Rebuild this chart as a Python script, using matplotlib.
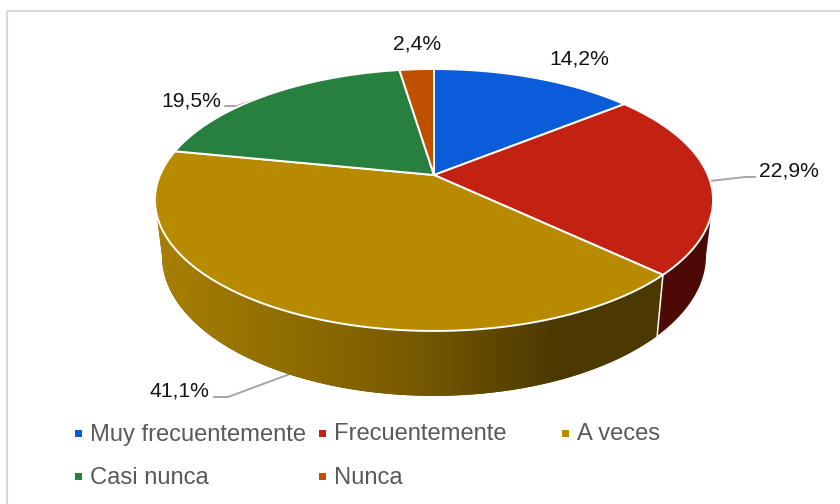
import numpy as np
import matplotlib.pyplot as plt
from matplotlib.colors import LinearSegmentedColormap
from matplotlib.patches import Polygon, Rectangle

plt.rcParams['font.family'] = ['Liberation Sans', 'DejaVu Sans']

categories = ['Muy frecuentemente', 'Frecuentemente', 'A veces', 'Casi nunca', 'Nunca']
shares = [14.2, 22.9, 41.1, 19.5, 2.4]
share_labels = ['14,2%', '22,9%', '41,1%', '19,5%', '2,4%']
colors = ['#0B5CD9', '#C32112', '#B78A00', '#27803F', '#BF5000']
side_colors = ['#0B5CD9', '#4D0A05', '#4C3900', '#27803F', '#BF5000']


def top_rim(t):
    # pie disc seen in perspective, t is clockwise from 12 o'clock
    d = 1 + 0.1908 * np.cos(t)
    return 434 + 273.9 * np.sin(t) / d, 175 - 126.2 * np.cos(t) / d


def bottom_rim(t):
    d = 1 + 0.1908 * np.cos(t)
    return 434 + 267 * np.sin(t) / d, 229 - 135 * np.cos(t) / d


fig = plt.figure(figsize=(8.4, 5.04), dpi=100)
ax = fig.add_axes([0, 0, 1, 1])
ax.set_xlim(0, 840)
ax.set_ylim(504, 0)
ax.axis('off')

ax.add_patch(Rectangle((7, 11), 860, 520, fc='none', ec='#D9D9D9', lw=1.5))

edges = np.concatenate([[0], np.cumsum(shares)]) / sum(shares) * 2 * np.pi
side_start = np.arccos(-0.1908)
side_end = 2 * np.pi - side_start

# side wall, only the part of each slice that faces the viewer
gold_ramp = LinearSegmentedColormap.from_list(
    'gold_ramp', [(0, '#A88000'), (0.5, '#7A5C00'), (0.8, '#4C3900'), (1, '#4C3900')])
for i in range(len(shares)):
    a = max(edges[i], side_start)
    b = min(edges[i + 1], side_end)
    if a >= b:
        continue
    t = np.linspace(a, b, 200)
    xt, yt = top_rim(t)
    xb, yb = bottom_rim(t)
    pts = np.column_stack([np.concatenate([xt, xb[::-1]]), np.concatenate([yt, yb[::-1]])])
    wall = Polygon(pts, fc=side_colors[i], ec='none', zorder=2)
    ax.add_patch(wall)
    if categories[i] == 'A veces':
        im = ax.imshow(np.linspace(0, 1, 256).reshape(1, -1), cmap=gold_ramp, aspect='auto',
                       extent=(155, 657, 400, 200), zorder=2.5)
        im.set_clip_path(wall)
    if edges[i + 1] < side_end:
        xa, ya = top_rim(b)
        xc, yc = bottom_rim(b)
        ax.plot([xa, xc], [ya, yc], color='white', lw=1.1, zorder=3)

ax.set_xlim(0, 840)
ax.set_ylim(504, 0)

# top face
for i in range(len(shares)):
    t = np.linspace(edges[i], edges[i + 1], 200)
    xt, yt = top_rim(t)
    pts = np.column_stack([np.concatenate([[434], xt]), np.concatenate([[175], yt])])
    ax.add_patch(Polygon(pts, fc=colors[i], ec='white', lw=1.4, joinstyle='round', zorder=4))

# leader lines
leader_color = '#A6A6A6'
ax.plot([710, 745, 755], [181, 177, 177], color=leader_color, lw=1.4, zorder=1)
ax.plot([225, 237, 268], [106, 106, 95], color=leader_color, lw=1.4, zorder=1)
ax.plot([214, 228, 290], [397, 397, 374], color=leader_color, lw=1.4, zorder=1)

label_pos = [(579, 59), (789, 171), (179, 391), (191, 101), (417, 44)]
for text, (x, y) in zip(share_labels, label_pos):
    ax.text(x, y, text, fontsize=15.2, color='#111111', ha='center', va='center', zorder=5)

# legend
legend_pos = [(78, 433), (322, 433), (565, 433), (78, 476), (322, 476)]
for name, c, (x, y) in zip(categories, colors, legend_pos):
    ax.add_patch(Rectangle((x - 3.5, y - 3.5), 7, 7, fc=c, ec='none'))
    ax.text(x + 12, y + 1.5, name, fontsize=17.1, color='#595959', ha='left', va='center')

fig.savefig('out.png', dpi=100)
